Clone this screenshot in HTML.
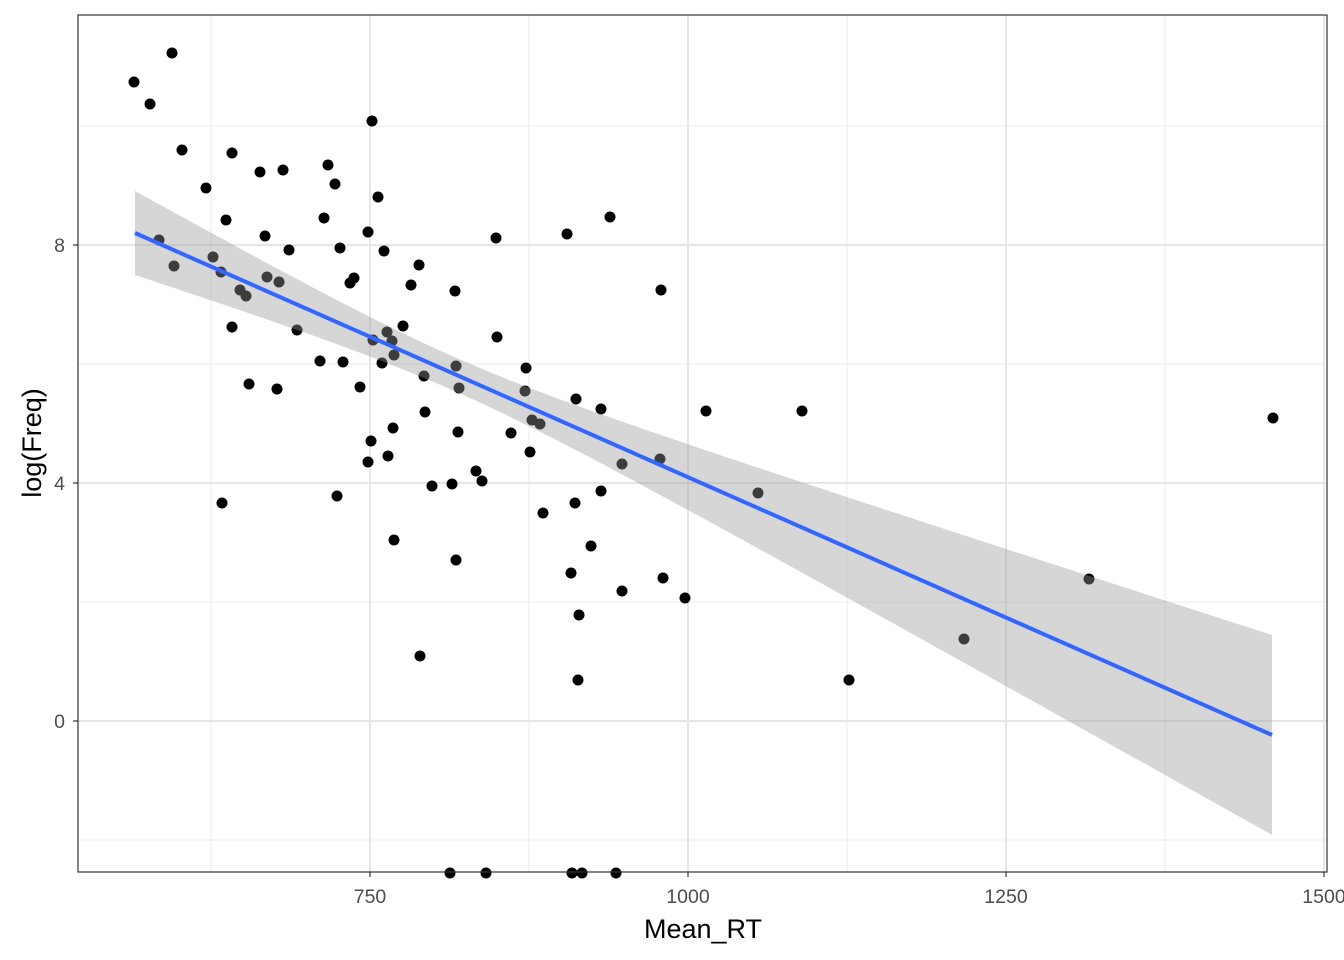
<!DOCTYPE html>
<html><head><meta charset="utf-8"><style>
html,body{margin:0;padding:0;background:#fff;}
svg{display:block;font-family:"Liberation Sans",sans-serif;}
</style></head><body>
<svg id="s" width="1344" height="960" xmlns="http://www.w3.org/2000/svg">
<rect width="1344" height="960" fill="#fff"/>
<g stroke="#ebebeb" stroke-width="1">
<line x1="211" y1="15" x2="211" y2="872"/><line x1="529" y1="15" x2="529" y2="872"/>
<line x1="847" y1="15" x2="847" y2="872"/><line x1="1165" y1="15" x2="1165" y2="872"/>
<line x1="78" y1="126" x2="1327" y2="126"/><line x1="78" y1="364" x2="1327" y2="364"/>
<line x1="78" y1="602" x2="1327" y2="602"/><line x1="78" y1="840" x2="1327" y2="840"/>
</g>
<g stroke="#e6e6e6" stroke-width="2">
<line x1="370" y1="15" x2="370" y2="872"/><line x1="688" y1="15" x2="688" y2="872"/>
<line x1="1006" y1="15" x2="1006" y2="872"/><line x1="1324" y1="15" x2="1324" y2="872"/>
<line x1="78" y1="245" x2="1327" y2="245"/><line x1="78" y1="483" x2="1327" y2="483"/>
<line x1="78" y1="721" x2="1327" y2="721"/>
</g>
<g id="pts" fill="#000"></g>
<polygon id="band" fill="#999" fill-opacity="0.4"/>
<line x1="135" y1="233" x2="1272" y2="735" stroke="#3366ff" stroke-width="4"/>
<rect x="78" y="15" width="1249" height="857" fill="none" stroke="#333" stroke-width="1.2"/>
<g stroke="#333" stroke-width="1.2">
<line x1="370" y1="872" x2="370" y2="877"/><line x1="688" y1="872" x2="688" y2="877"/>
<line x1="1006" y1="872" x2="1006" y2="877"/><line x1="1324" y1="872" x2="1324" y2="877"/>
<line x1="73" y1="245" x2="78" y2="245"/><line x1="73" y1="483" x2="78" y2="483"/><line x1="73" y1="721" x2="78" y2="721"/>
</g>
<g fill="#4d4d4d" font-size="19.5" text-anchor="middle">
<text x="370" y="903">750</text><text x="688" y="903">1000</text>
<text x="1006" y="903">1250</text><text x="1324" y="903">1500</text>
</g>
<g fill="#4d4d4d" font-size="19.5" text-anchor="end">
<text x="65" y="252">8</text><text x="65" y="490">4</text><text x="65" y="728">0</text>
</g>
<text x="703" y="938" font-size="27" text-anchor="middle">Mean_RT</text>
<text transform="translate(41,443) rotate(-90)" font-size="27" text-anchor="middle">log(Freq)</text>
</svg>
<script>
var P=[[134,82],[172,53],[150,104],[182,150],[232,153],[206,188],[260,172],[283,170],[328,165],[335,184],[372,121],[378,197],[226,220],[265,236],[159,240],[174,266],[213,257],[221,272],[240,290],[246,296],[267,277],[279,282],[289,250],[232,327],[297,330],[249,384],[277,389],[222,503],[324,218],[340,248],[368,232],[384,251],[350,283],[354,278],[320,361],[343,362],[360,387],[373,340],[387,332],[392,341],[394,355],[382,363],[403,326],[411,285],[419,265],[455,291],[424,376],[425,412],[456,366],[459,388],[458,432],[371,441],[368,462],[388,456],[393,428],[337,496],[394,540],[432,486],[452,484],[476,471],[482,481],[456,560],[420,656],[496,238],[497,337],[526,368],[525,391],[532,420],[540,424],[511,433],[530,452],[543,513],[567,234],[610,217],[661,290],[576,399],[601,409],[575,503],[601,491],[622,464],[660,459],[591,546],[571,573],[579,615],[622,591],[663,578],[685,598],[578,680],[706,411],[758,493],[802,411],[849,680],[964,639],[1089,579],[1273,418],[450,873],[486,873],[572,873],[582,873],[616,873]];
var g=document.getElementById('pts'),ns='http://www.w3.org/2000/svg';
P.forEach(function(p){var c=document.createElementNS(ns,'circle');c.setAttribute('cx',p[0]);c.setAttribute('cy',p[1]);c.setAttribute('r',5.5);g.appendChild(c);});
var up=[],lo=[];
for(var x=135;x<=1272;x+=10){var xx=Math.min(x,1272);var y=233+0.4415*(xx-135);var h=Math.sqrt(289+0.0145*(xx-454)*(xx-454));up.push(xx+','+(y-h).toFixed(1));lo.unshift(xx+','+(y+h).toFixed(1));}
var y2=735,h2=Math.sqrt(289+0.0145*(1272-454)*(1272-454));up.push('1272,'+(y2-h2).toFixed(1));lo.unshift('1272,'+(y2+h2).toFixed(1));
document.getElementById('band').setAttribute('points',up.concat(lo).join(' '));
</script>
</body></html>
